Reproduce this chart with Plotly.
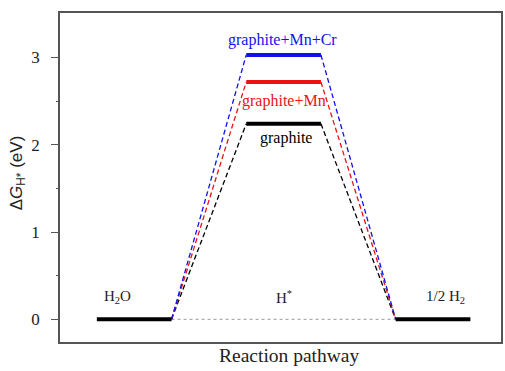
import plotly.graph_objects as go

# Data
states = ["H2O", "H*", "1/2 H2"]
systems = ["graphite", "graphite+Mn", "graphite+Mn+Cr"]
colors = ["#000000", "#ee1111", "#1111ee"]
h_energy = [2.24, 2.72, 3.03]   # ΔG_H* (eV)
start_energy = 0.0
end_energy = 0.0
ytick_vals = [0, 1, 2, 3]

# x positions of the three stages (levels span [x, x+1])
stage_x = [0, 2, 4]

fig = go.Figure()

# dotted reference at 0
fig.add_trace(go.Scatter(x=[stage_x[0] + 1, stage_x[2]], y=[0, 0], mode="lines",
                         line=dict(color="#999999", width=1, dash="dot"), showlegend=False))

# dashed connectors
for e, c in zip(h_energy, colors):
    fig.add_trace(go.Scatter(x=[stage_x[0] + 1, stage_x[1]], y=[start_energy, e], mode="lines",
                             line=dict(color=c, width=1.3, dash="5px,3px"), showlegend=False))
    fig.add_trace(go.Scatter(x=[stage_x[1] + 1, stage_x[2]], y=[e, end_energy], mode="lines",
                             line=dict(color=c, width=1.3, dash="5px,3px"), showlegend=False))

# levels
fig.add_trace(go.Scatter(x=[stage_x[0], stage_x[0] + 1], y=[start_energy] * 2, mode="lines",
                         line=dict(color="black", width=4), showlegend=False))
fig.add_trace(go.Scatter(x=[stage_x[2], stage_x[2] + 1], y=[end_energy] * 2, mode="lines",
                         line=dict(color="black", width=4), showlegend=False))
for e, c in zip(h_energy, colors):
    fig.add_trace(go.Scatter(x=[stage_x[1], stage_x[1] + 1], y=[e, e], mode="lines",
                             line=dict(color=c, width=4), showlegend=False))

serif = "Liberation Serif"

# system labels
label_y = [2.08, 2.50, 3.20]
label_x = [2.53, 2.50, 2.49]
for s, c, lx, ly in zip(systems, colors, label_x, label_y):
    fig.add_annotation(x=lx, y=ly, text=s, showarrow=False,
                       font=dict(family=serif, size=16, color=c))

# stage labels
stage_labels = ["H<sub>2</sub>O", "H<sup>*</sup>", "1/2 H<sub>2</sub>"]
stage_label_x = [0.28, 2.51, 4.67]
for t, lx in zip(stage_labels, stage_label_x):
    fig.add_annotation(x=lx, y=0.26, text=t, showarrow=False,
                       font=dict(family=serif, size=15, color="#222222"))

# axis titles
fig.add_annotation(xref="paper", yref="paper", x=0.52, y=-0.04, yanchor="middle",
                   text="Reaction pathway", showarrow=False,
                   font=dict(family=serif, size=19.5, color="#222222"))
fig.add_annotation(xref="paper", yref="paper", x=-0.126, y=0.514, textangle=-90,
                   text="Δ<i>G</i><sub>H*</sub> (eV)", showarrow=False,
                   font=dict(family="Liberation Sans", size=17, color="#222222"))

fig.update_layout(
    width=505, height=371,
    margin=dict(l=60, r=2, t=13, b=29),
    paper_bgcolor="white", plot_bgcolor="white",
    xaxis=dict(range=[-0.493, 5.41], showgrid=False, zeroline=False, showticklabels=False,
               ticks="", showline=True, linecolor="#555555", linewidth=1.5, mirror=True),
    yaxis=dict(range=[-0.26, 3.51], showgrid=False, zeroline=False,
               tickvals=ytick_vals, ticks="outside", ticklen=7, tickcolor="#555555",
               ticklabelstandoff=8,
               minor=dict(tickvals=[0.5, 1.5, 2.5], ticks="outside", ticklen=2, tickcolor="#555555"),
               tickfont=dict(family=serif, size=17, color="#222222"),
               showline=True, linecolor="#555555", linewidth=1.5, mirror=True),
)

fig.write_html("out.html")
